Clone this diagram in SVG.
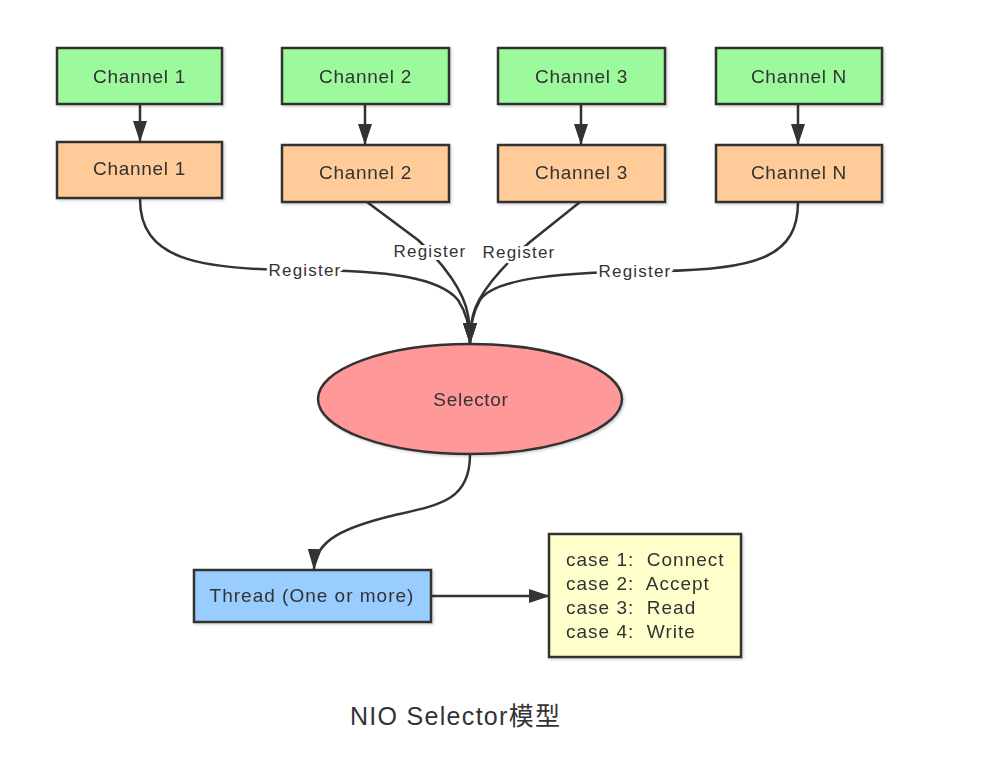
<svg xmlns="http://www.w3.org/2000/svg" width="998" height="764" viewBox="0 0 998 764">
<style>
  .box { stroke: #333; stroke-width: 2.5; }
  .g { fill: #9cfa9c; }
  .o { fill: #ffcc99; }
  .t { font-family: "Liberation Sans", Arial, sans-serif; fill: #333; }
  .lbl { font-size: 19px; letter-spacing: 0.7px; text-anchor: middle; }
  .reg { font-size: 17px; letter-spacing: 1.2px; text-anchor: middle; paint-order: stroke; stroke: #fff; stroke-width: 6px; stroke-linejoin: round; }
  .case { font-size: 19px; letter-spacing: 1px; white-space: pre; }
  .conn { fill: none; stroke: #333; stroke-width: 2.5; }
</style>
<defs>
  <marker id="arr" markerUnits="userSpaceOnUse" markerWidth="22" markerHeight="16" refX="20" refY="8" orient="auto">
    <path d="M0,1 L21,8 L0,15 z" fill="#333"/>
  </marker>
  <filter id="sh" x="-10%" y="-10%" width="130%" height="140%">
    <feDropShadow dx="1.5" dy="1.5" stdDeviation="1" flood-color="#000" flood-opacity="0.18"/>
  </filter>
</defs>
<rect width="998" height="764" fill="#fff"/>

<g id="connectors">
  <path class="conn" d="M140,104 L140,141" marker-end="url(#arr)"/>
  <path class="conn" d="M365,104 L365,144" marker-end="url(#arr)"/>
  <path class="conn" d="M581,104 L581,144" marker-end="url(#arr)"/>
  <path class="conn" d="M798,104 L798,144" marker-end="url(#arr)"/>

  <path class="conn" d="M140,199 C140,258 195,270 300,270 C390,270 440,278 458,300 C466,312 470,325 470,343" marker-end="url(#arr)"/>
  <path class="conn" d="M367,202 L418,240 C445,265 464,292 468,315 C470,325 470,335 470,343" marker-end="url(#arr)"/>
  <path class="conn" d="M580,202 L530,242 C500,268 478,295 473,315 C471,325 470,335 470,343" marker-end="url(#arr)"/>
  <path class="conn" d="M798,202 C798,255 760,270 660,271 C560,272 495,278 480,300 C473,312 470,325 470,343" marker-end="url(#arr)"/>

  <path class="conn" d="M470,455 C470,500 440,505 395,515 C345,527 315,540 314,569" marker-end="url(#arr)"/>
  <path class="conn" d="M432,596 L549,596" marker-end="url(#arr)"/>

  <text class="t reg" x="305" y="276">Register</text>
  <text class="t reg" x="430" y="257">Register</text>
  <text class="t reg" x="519" y="258">Register</text>
  <text class="t reg" x="635" y="277">Register</text>
</g>

<g id="src1" filter="url(#sh)">
  <rect class="box g" x="57" y="48" width="165" height="56"/>
  <text class="t lbl" x="139.5" y="83">Channel 1</text>
</g>
<g id="src2" filter="url(#sh)">
  <rect class="box g" x="282" y="48" width="167" height="56"/>
  <text class="t lbl" x="365.5" y="83">Channel 2</text>
</g>
<g id="src3" filter="url(#sh)">
  <rect class="box g" x="498" y="48" width="167" height="56"/>
  <text class="t lbl" x="581.5" y="83">Channel 3</text>
</g>
<g id="srcN" filter="url(#sh)">
  <rect class="box g" x="716" y="48" width="166" height="56"/>
  <text class="t lbl" x="799" y="83">Channel N</text>
</g>

<g id="ch1" filter="url(#sh)">
  <rect class="box o" x="57" y="142" width="165" height="56"/>
  <text class="t lbl" x="139.5" y="175">Channel 1</text>
</g>
<g id="ch2" filter="url(#sh)">
  <rect class="box o" x="282" y="145" width="167" height="57"/>
  <text class="t lbl" x="365.5" y="179">Channel 2</text>
</g>
<g id="ch3" filter="url(#sh)">
  <rect class="box o" x="498" y="145" width="167" height="57"/>
  <text class="t lbl" x="581.5" y="179">Channel 3</text>
</g>
<g id="chN" filter="url(#sh)">
  <rect class="box o" x="716" y="145" width="166" height="57"/>
  <text class="t lbl" x="799" y="179">Channel N</text>
</g>

<g id="selector" filter="url(#sh)">
  <ellipse class="box" cx="470" cy="399" rx="152" ry="55" fill="#ff9999"/>
  <text class="t lbl" x="471" y="406">Selector</text>
</g>

<g id="thread" filter="url(#sh)">
  <rect class="box" x="194" y="570" width="237" height="52" fill="#99ccff"/>
  <text class="t lbl" x="312" y="602" style="letter-spacing:1px">Thread (One or more)</text>
</g>

<g id="cases" filter="url(#sh)">
  <rect class="box" x="549" y="534" width="192" height="123" fill="#ffffcc"/>
  <text class="t case" x="566" y="566">case 1:  Connect</text>
  <text class="t case" x="566" y="590">case 2:  Accept</text>
  <text class="t case" x="566" y="614">case 3:  Read</text>
  <text class="t case" x="566" y="638">case 4:  Write</text>
</g>

<text id="title" class="t" x="350" y="725" style="font-size:25px;letter-spacing:1.3px;font-family:'Liberation Sans','Noto Sans CJK SC',sans-serif">NIO Selector模型</text>
</svg>
